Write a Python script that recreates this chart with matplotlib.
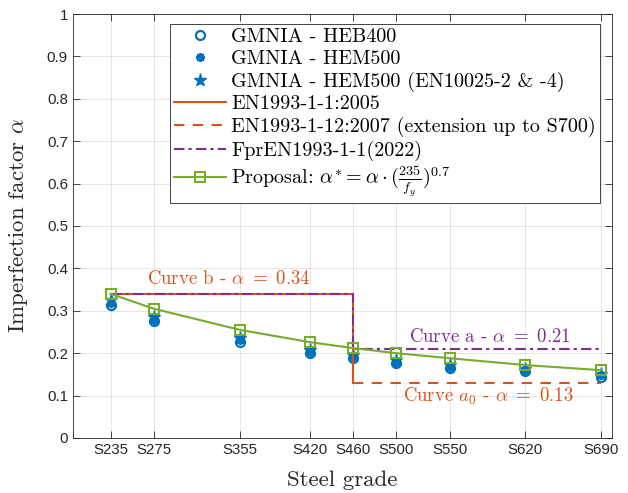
import matplotlib
matplotlib.use("Agg")
import matplotlib.pyplot as plt

plt.rcParams['mathtext.fontset'] = 'cm'
plt.rcParams['font.family'] = ['Liberation Sans', 'DejaVu Sans']

# steel grades (yield strength in MPa)
grades = [235, 275, 355, 420, 460, 500, 550, 620, 690]
grade_labels = ['S235', 'S275', 'S355', 'S420', 'S460', 'S500', 'S550', 'S620', 'S690']

# GMNIA results
heb400 = [0.314, 0.276, 0.227, 0.200, 0.189, 0.177, 0.166, 0.157, 0.145]
hem500 = [0.318, 0.279, 0.230, 0.203, 0.192, 0.180, 0.168, 0.159, 0.148]
hem500_en10025 = [0.326, 0.286, 0.235, 0.207, 0.196, 0.184, 0.172, 0.162, 0.151]

# design curves
ec3_2005_x = [235, 460, 460]
ec3_2005_y = [0.34, 0.34, 0.13]
ec3_112_x = [460, 690]
ec3_112_y = [0.13, 0.13]
fpr_x = [235, 460, 460, 690]
fpr_y = [0.34, 0.34, 0.21, 0.21]

# proposal alpha* = alpha*(235/fy)^0.7
proposal = [0.340, 0.305, 0.255, 0.226, 0.212, 0.200, 0.188, 0.172, 0.160]

blue = '#0072BD'
orange = '#D95319'
purple = '#7E2F8E'
green = '#77AC30'
serif = 'cmr10'

fig = plt.figure(figsize=(6.28, 4.93), dpi=100)
ax = fig.add_axes([0.116, 0.1116, 0.858, 0.86])

ax.plot(grades, heb400, 'o', ls='none', color=blue, mfc='none', ms=6.5, mew=1.6,
        label='GMNIA - HEB400')
ax.plot(grades, hem500, marker=(8, 2, 0), ls='none', color=blue, ms=6.5, mew=1.4,
        label='GMNIA - HEM500')
ax.plot(grades, hem500_en10025, '*', ls='none', color=blue, ms=9.5,
        label='GMNIA - HEM500 (EN10025-2 & -4)')
ax.plot(ec3_2005_x, ec3_2005_y, '-', color=orange, lw=1.5, label='EN1993-1-1:2005')
ax.plot(ec3_112_x, ec3_112_y, '--', color=orange, lw=1.5, dashes=(5, 4),
        label='EN1993-1-12:2007 (extension up to S700)')
ax.plot(fpr_x, fpr_y, '-.', color=purple, lw=1.5, dashes=(5, 2, 1.5, 2),
        label='FprEN1993-1-1(2022)')
ax.plot(grades, proposal, '-s', color=green, lw=1.5, mfc='none', ms=7, mew=1.5,
        label=r'Proposal: $\alpha^{*} = \alpha \cdot (\frac{235}{f_y})^{0.7}$')

ax.text(345, 0.375, r'Curve b - $\alpha\ =\ 0.34$', color=orange, fontsize=13.5,
        family=serif, ha='center', va='center')
ax.text(587, 0.238, r'Curve a - $\alpha\ =\ 0.21$', color=purple, fontsize=13.5,
        family=serif, ha='center', va='center')
ax.text(586, 0.099, r'Curve $a_0$ - $\alpha\ =\ 0.13$', color=orange, fontsize=13.5,
        family=serif, ha='center', va='center')

ax.set_xlim(200, 700)
ax.set_ylim(0, 1)
ax.set_xticks(grades)
ax.set_xticklabels(grade_labels)
ax.set_yticks([i / 10 for i in range(11)])
ax.set_yticklabels(['0', '0.1', '0.2', '0.3', '0.4', '0.5', '0.6', '0.7', '0.8', '0.9', '1'])
ax.tick_params(direction='in', top=True, right=True, length=5, width=0.6,
               labelsize=10.8, colors='#262626')
ax.grid(True, color='#262626', alpha=0.13, lw=0.6)
for s in ax.spines.values():
    s.set_color('#262626')
    s.set_linewidth(0.6)

ax.set_xlabel('Steel grade', family=serif, fontsize=16.5, color='#262626', labelpad=10)
ax.set_ylabel(r'Imperfection factor $\alpha$', family=serif, fontsize=16.5,
              color='#262626', labelpad=12)

leg = ax.legend(loc='upper right', bbox_to_anchor=(0.978, 0.976), borderaxespad=0,
                prop={'family': serif, 'size': 14.5}, handlelength=2.6,
                handletextpad=0.25, labelspacing=0.18, borderpad=0.2,
                fancybox=False, framealpha=1, edgecolor='#262626')
leg.get_frame().set_linewidth(0.6)

fig.savefig('out.png', dpi=100)
